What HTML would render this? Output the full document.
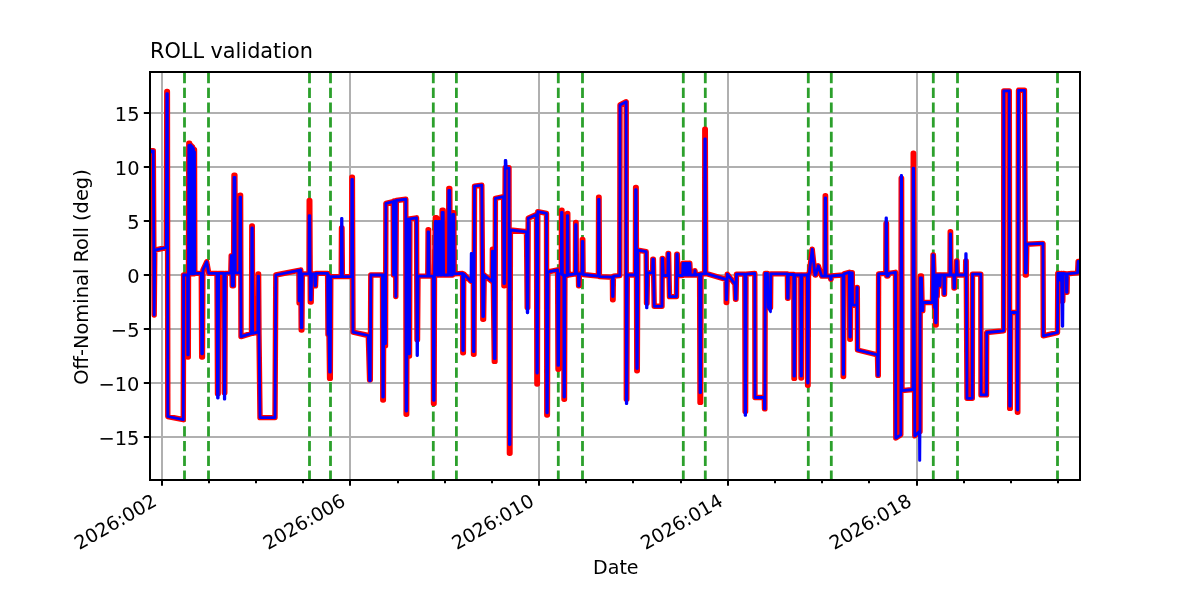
<!DOCTYPE html>
<html><head><meta charset="utf-8"><title>ROLL validation</title>
<style>
html,body{margin:0;padding:0;background:#fff;}
body{width:1200px;height:600px;overflow:hidden;}
svg{display:block;will-change:transform;}
text{font-family:"DejaVu Sans","Liberation Sans",sans-serif;fill:#000;}
</style></head><body>
<svg width="1200" height="600" viewBox="0 0 1200 600">
<rect x="0" y="0" width="1200" height="600" fill="#ffffff"/>
<defs><clipPath id="ax"><rect x="150" y="72" width="930" height="408"/></clipPath></defs>

<g stroke="#b0b0b0" stroke-width="2" fill="none">
<path d="M162.0,480 V72"/>
<path d="M350.0,480 V72"/>
<path d="M539.0,480 V72"/>
<path d="M728.0,480 V72"/>
<path d="M917.0,480 V72"/>
<path d="M150,113 H1080"/>
<path d="M150,167 H1080"/>
<path d="M150,221 H1080"/>
<path d="M150,275 H1080"/>
<path d="M150,329 H1080"/>
<path d="M150,383 H1080"/>
<path d="M150,437 H1080"/>
</g>
<g clip-path="url(#ax)" fill="none" stroke-linejoin="round" stroke-linecap="round">
<g stroke="#2ca02c" stroke-width="2.8" stroke-dasharray="10.28 4.44" stroke-linecap="butt">
<path d="M184.5,480.7 V72"/>
<path d="M208.5,480.7 V72"/>
<path d="M309.5,480.7 V72"/>
<path d="M330.5,480.7 V72"/>
<path d="M433.3,480.7 V72"/>
<path d="M456.4,480.7 V72"/>
<path d="M558.3,480.7 V72"/>
<path d="M582.5,480.7 V72"/>
<path d="M683.3,480.7 V72"/>
<path d="M705.3,480.7 V72"/>
<path d="M808.3,480.7 V72"/>
<path d="M831.3,480.7 V72"/>
<path d="M933.3,480.7 V72"/>
<path d="M957.5,480.7 V72"/>
<path d="M1057.5,480.7 V72"/>
</g>
<path d="M150.0,177.8 L151.3,150.8 L153.3,150.8 L154.2,315.0 L154.8,250.2 L166.3,247.5 L166.8,91.4 L167.4,91.4 L167.8,416.5 L183.3,419.7 L183.6,275.0 L187.6,275.0 L187.8,357.1 L188.3,357.1 L188.8,143.2 L189.6,143.2 L190.0,273.9 L190.5,144.9 L191.0,273.9 L191.5,145.9 L192.0,273.9 L192.5,147.0 L193.0,273.9 L193.5,148.6 L193.8,273.9 L194.1,149.7 L194.5,149.7 L194.8,273.4 L201.3,273.4 L201.7,357.1 L202.5,357.1 L202.9,270.1 L206.7,261.8 L208.8,273.4 L217.0,273.4 L217.5,393.8 L218.2,393.8 L218.6,273.4 L223.8,273.4 L224.3,392.7 L224.8,392.7 L225.3,273.4 L230.8,272.8 L231.2,255.6 L231.8,255.6 L232.2,285.8 L233.5,285.8 L234.0,175.1 L234.9,175.1 L235.3,272.8 L239.7,272.8 L240.0,195.1 L240.6,195.1 L241.0,336.6 L251.5,333.3 L251.8,225.9 L252.3,225.9 L252.7,333.3 L257.8,332.2 L258.1,273.9 L258.6,273.9 L259.0,334.4 L260.0,417.6 L275.0,417.6 L275.8,275.0 L298.9,270.4 L299.1,303.1 L299.6,303.1 L299.9,270.1 L300.8,270.0 L301.2,330.1 L301.9,330.1 L302.3,273.9 L309.0,273.9 L309.2,200.5 L309.8,200.5 L310.3,302.0 L311.2,302.0 L311.6,273.9 L314.5,273.9 L315.0,285.8 L315.5,285.8 L316.0,273.4 L327.6,273.4 L328.0,334.4 L328.5,275.0 L329.0,334.4 L329.6,378.4 L330.3,378.4 L330.8,276.6 L341.2,276.6 L341.5,228.0 L342.0,228.0 L342.4,276.6 L351.6,276.6 L351.8,177.3 L352.4,177.3 L353.0,332.2 L368.3,335.5 L369.6,379.8 L370.3,379.8 L370.8,275.0 L382.5,275.0 L382.8,400.0 L383.4,400.0 L383.8,275.0 L385.0,345.8 L385.5,345.8 L385.9,203.3 L393.2,201.6 L393.5,275.0 L394.0,201.0 L395.5,201.0 L395.8,296.6 L396.3,200.5 L405.8,199.2 L406.1,414.3 L406.7,414.3 L407.2,219.2 L408.6,219.2 L409.0,356.0 L409.5,356.0 L409.9,218.8 L416.5,217.8 L417.0,339.8 L417.5,339.8 L418.0,276.1 L427.8,276.1 L428.1,229.6 L428.6,229.6 L429.0,276.1 L433.2,276.1 L433.5,403.5 L434.1,403.5 L434.5,275.0 L435.3,217.8 L436.6,217.8 L437.0,275.0 L438.6,275.0 L438.9,219.4 L439.8,219.4 L440.2,275.0 L441.8,275.0 L442.1,210.2 L443.2,210.2 L443.6,275.0 L448.5,275.0 L448.8,188.4 L449.8,188.4 L450.2,275.0 L452.5,275.0 L452.8,212.8 L453.8,212.8 L454.2,273.9 L462.6,273.4 L462.8,352.8 L463.4,352.8 L463.7,273.9 L471.0,281.5 L471.2,281.5 L471.8,281.5 L472.0,281.5 L473.3,281.5 L473.5,354.2 L474.0,354.2 L474.5,186.1 L481.8,185.1 L482.8,319.3 L483.6,319.3 L484.2,275.0 L485.0,275.9 L492.2,281.5 L492.4,249.1 L492.9,249.1 L494.3,361.4 L495.0,361.4 L495.4,198.3 L503.6,196.7 L503.9,285.8 L504.5,285.8 L505.2,167.8 L505.9,167.8 L506.3,167.8 L509.0,167.8 L509.4,453.2 L510.0,453.2 L510.4,230.0 L526.5,231.8 L527.2,307.4 L527.8,307.4 L528.2,218.3 L536.5,214.5 L536.9,384.1 L537.4,384.1 L537.8,211.7 L546.5,213.4 L546.8,415.0 L547.4,415.0 L547.9,271.8 L557.6,270.0 L558.0,369.2 L558.6,369.2 L559.0,273.9 L561.3,273.9 L561.5,210.2 L562.0,210.2 L562.4,275.0 L563.8,275.0 L564.0,399.2 L564.5,399.2 L564.9,275.5 L567.1,275.5 L567.3,213.4 L567.8,213.4 L568.1,275.0 L575.4,273.9 L575.6,222.5 L576.1,222.5 L576.4,273.9 L578.4,273.9 L578.6,285.8 L579.1,285.8 L579.4,273.9 L582.1,273.9 L582.3,239.4 L582.8,239.4 L583.1,274.5 L598.4,276.1 L598.6,197.2 L599.1,197.2 L599.4,276.6 L612.4,277.2 L612.6,299.8 L613.1,299.8 L613.4,276.1 L619.8,275.5 L620.0,105.0 L626.2,101.7 L626.3,399.2 L626.8,399.2 L627.3,275.0 L635.4,275.0 L635.6,187.5 L636.2,187.5 L636.8,370.8 L637.3,370.8 L637.8,250.2 L646.2,251.7 L646.5,303.1 L647.0,303.1 L647.5,272.8 L652.6,272.8 L652.8,259.2 L653.4,259.2 L654.2,306.3 L662.0,306.3 L662.2,258.4 L662.6,258.4 L663.3,275.5 L667.8,275.5 L668.1,253.4 L668.6,253.4 L669.5,296.6 L676.5,296.6 L676.8,254.2 L677.3,254.2 L678.0,275.5 L682.5,275.5 L683.0,263.3 L683.6,275.0 L684.2,263.3 L684.8,275.0 L685.4,263.3 L686.0,275.0 L686.6,263.3 L687.2,275.0 L687.8,263.3 L688.4,275.0 L689.0,263.3 L689.8,263.3 L690.4,275.0 L694.5,275.0 L695.0,270.7 L695.5,275.0 L699.6,274.5 L700.0,402.4 L700.6,402.4 L701.0,273.9 L704.6,273.9 L704.8,129.2 L705.3,129.2 L705.7,273.4 L726.0,279.3 L726.2,302.5 L726.7,302.5 L727.3,274.1 L735.0,284.2 L735.5,299.2 L736.0,299.2 L736.5,274.1 L744.8,274.1 L745.1,411.6 L745.6,411.6 L746.0,274.1 L754.8,273.4 L755.0,397.5 L764.3,397.5 L764.5,408.9 L764.9,408.9 L765.2,273.4 L767.5,273.4 L768.2,307.4 L770.5,307.4 L770.8,273.9 L787.4,273.9 L787.6,298.3 L788.1,298.3 L788.4,274.5 L793.8,274.5 L794.0,378.4 L794.5,378.4 L794.8,275.0 L800.8,275.0 L801.0,378.1 L801.5,378.1 L801.8,275.0 L807.4,275.0 L807.6,385.2 L808.1,385.2 L808.5,273.9 L809.2,273.9 L812.2,249.1 L815.0,275.0 L815.8,275.0 L818.3,265.8 L821.7,276.1 L825.0,276.1 L825.2,195.8 L825.6,195.8 L825.9,276.1 L830.4,276.1 L830.7,279.3 L831.1,279.3 L831.4,275.9 L843.0,275.0 L843.2,376.5 L843.6,376.5 L843.9,273.9 L849.3,272.3 L849.8,339.2 L850.4,339.2 L850.8,272.8 L852.3,272.8 L852.5,305.2 L856.8,305.2 L857.0,287.5 L857.3,287.5 L857.5,350.0 L877.5,354.9 L877.9,375.4 L878.3,375.4 L878.6,273.9 L885.8,273.4 L886.0,223.4 L886.5,223.4 L886.8,276.1 L888.0,276.1 L889.0,273.4 L895.5,272.3 L895.8,438.1 L900.8,434.8 L901.2,178.3 L901.6,178.3 L902.0,390.6 L913.0,389.5 L913.2,153.3 L913.6,153.3 L914.8,435.9 L919.4,431.6 L919.6,431.6 L919.8,431.6 L920.0,431.6 L920.2,275.9 L921.5,275.9 L922.2,310.6 L922.8,310.6 L923.0,302.5 L932.5,302.5 L933.0,255.0 L933.4,255.0 L934.0,275.0 L934.5,307.4 L935.0,275.0 L935.6,325.0 L936.2,325.0 L936.6,275.0 L937.2,296.6 L937.8,275.0 L939.6,275.0 L940.0,285.8 L940.5,275.0 L943.8,275.0 L944.0,294.2 L944.5,294.2 L944.8,275.0 L950.0,275.0 L950.2,231.8 L950.6,231.8 L950.9,275.0 L953.8,275.0 L954.0,288.0 L954.5,288.0 L954.8,275.0 L956.4,275.0 L956.6,261.0 L957.0,261.0 L957.3,275.0 L965.5,275.0 L965.7,261.0 L966.2,261.0 L967.0,398.3 L972.3,398.3 L972.5,274.1 L980.8,274.1 L981.0,394.9 L986.5,394.9 L986.7,332.5 L1003.6,330.8 L1003.8,90.9 L1009.3,90.9 L1009.7,408.4 L1010.3,408.4 L1010.8,312.5 L1017.2,312.5 L1017.4,412.2 L1017.8,412.2 L1018.5,90.3 L1024.5,90.3 L1025.3,275.0 L1026.3,275.0 L1026.8,244.2 L1043.0,243.4 L1043.3,335.8 L1057.5,332.5 L1057.8,273.4 L1060.0,273.4 L1060.5,280.4 L1061.5,273.4 L1062.2,300.9 L1062.8,300.9 L1063.2,273.4 L1066.2,273.9 L1066.5,292.3 L1067.0,292.3 L1067.3,273.9 L1077.6,272.8 L1078.1,261.5 L1080.0,261.5" stroke="#ff0000" stroke-width="5.4"/>
<path d="M150.0,153.0 L151.3,150.8 L153.3,150.8 L154.2,315.0 L154.8,250.2 L166.3,247.5 L166.8,93.6 L167.4,93.6 L167.8,416.5 L183.3,419.7 L183.6,275.0 L187.6,275.0 L187.8,354.9 L188.3,354.9 L188.8,145.4 L189.6,145.4 L190.0,273.9 L190.5,144.9 L191.0,273.9 L191.5,145.9 L192.0,273.9 L192.5,147.0 L193.0,273.9 L193.5,148.6 L193.8,273.9 L194.1,151.9 L194.5,151.9 L194.8,273.4 L201.3,273.4 L201.7,353.8 L202.5,353.8 L202.9,270.1 L206.7,261.8 L208.8,273.4 L217.0,273.4 L217.5,398.1 L218.2,398.1 L218.6,273.4 L223.8,273.4 L224.3,399.2 L224.8,399.2 L225.3,273.4 L230.8,272.8 L231.2,255.6 L231.8,255.6 L232.2,285.8 L233.5,285.8 L234.0,177.3 L234.9,177.3 L235.3,272.8 L239.7,272.8 L240.0,197.2 L240.6,197.2 L241.0,336.6 L251.5,333.3 L251.8,228.0 L252.3,228.0 L252.7,333.3 L257.8,332.2 L258.1,276.1 L258.6,276.1 L259.0,334.4 L260.0,417.6 L275.0,417.6 L275.8,275.0 L298.9,270.4 L299.1,300.9 L299.6,300.9 L299.9,270.1 L300.8,270.0 L301.2,327.9 L301.9,327.9 L302.3,273.9 L309.0,273.9 L309.2,215.6 L309.8,215.6 L310.3,299.8 L311.2,299.8 L311.6,273.9 L314.5,273.9 L315.0,285.8 L315.5,285.8 L316.0,273.4 L327.6,273.4 L328.0,334.4 L328.5,275.0 L329.0,334.4 L329.6,372.2 L330.3,372.2 L330.8,276.6 L341.2,276.6 L341.5,218.3 L342.0,218.3 L342.4,276.6 L351.6,276.6 L351.8,179.4 L352.4,179.4 L353.0,332.2 L368.3,335.5 L369.6,380.8 L370.3,380.8 L370.8,275.0 L382.5,275.0 L382.8,397.0 L383.4,397.0 L383.8,275.0 L385.0,343.7 L385.5,343.7 L385.9,203.3 L393.2,201.6 L393.5,275.0 L394.0,201.0 L395.5,201.0 L395.8,296.6 L396.3,200.5 L405.8,199.2 L406.1,411.1 L406.7,411.1 L407.2,219.2 L408.6,219.2 L409.0,353.8 L409.5,353.8 L409.9,218.8 L416.5,217.8 L417.0,355.5 L417.5,355.5 L418.0,276.1 L427.8,276.1 L428.1,231.8 L428.6,231.8 L429.0,276.1 L433.2,276.1 L433.5,400.3 L434.1,400.3 L434.5,275.0 L435.3,221.4 L436.6,221.4 L437.0,275.0 L438.6,275.0 L438.9,221.5 L439.8,221.5 L440.2,275.0 L441.8,275.0 L442.1,212.4 L443.2,212.4 L443.6,275.0 L448.5,275.0 L448.8,190.5 L449.8,190.5 L450.2,275.0 L452.5,275.0 L452.8,214.5 L453.8,214.5 L454.2,273.9 L462.6,273.4 L462.8,350.6 L463.4,350.6 L463.7,273.9 L471.0,281.5 L471.2,253.4 L471.8,253.4 L472.0,281.5 L473.3,281.5 L473.5,351.7 L474.0,351.7 L474.5,186.1 L481.8,185.1 L482.8,316.6 L483.6,316.6 L484.2,275.0 L485.0,275.9 L492.2,281.5 L492.4,251.2 L492.9,251.2 L494.3,358.7 L495.0,358.7 L495.4,198.3 L503.6,196.7 L503.9,283.6 L504.5,283.6 L505.2,160.5 L505.9,160.5 L506.3,168.1 L509.0,168.1 L509.4,444.6 L510.0,444.6 L510.4,230.0 L526.5,231.8 L527.2,312.8 L527.8,312.8 L528.2,218.3 L536.5,214.5 L536.9,373.0 L537.4,373.0 L537.8,211.7 L546.5,213.4 L546.8,412.8 L547.4,412.8 L547.9,271.8 L557.6,270.0 L558.0,365.4 L558.6,365.4 L559.0,273.9 L561.3,273.9 L561.5,212.4 L562.0,212.4 L562.4,275.0 L563.8,275.0 L564.0,397.0 L564.5,397.0 L564.9,275.5 L567.1,275.5 L567.3,215.6 L567.8,215.6 L568.1,275.0 L575.4,273.9 L575.6,224.7 L576.1,224.7 L576.4,273.9 L578.4,273.9 L578.6,285.8 L579.1,285.8 L579.4,273.9 L582.1,273.9 L582.3,241.5 L582.8,241.5 L583.1,274.5 L598.4,276.1 L598.6,199.4 L599.1,199.4 L599.4,276.6 L612.4,277.2 L612.6,296.6 L613.1,296.6 L613.4,276.1 L619.8,275.5 L620.0,105.0 L626.2,101.7 L626.3,403.7 L626.8,403.7 L627.3,275.0 L635.4,275.0 L635.6,189.7 L636.2,189.7 L636.8,368.6 L637.3,368.6 L637.8,250.2 L646.2,251.7 L646.5,307.9 L647.0,307.9 L647.5,272.8 L652.6,272.8 L652.8,259.2 L653.4,259.2 L654.2,306.3 L662.0,306.3 L662.2,258.4 L662.6,258.4 L663.3,275.5 L667.8,275.5 L668.1,253.4 L668.6,253.4 L669.5,296.6 L676.5,296.6 L676.8,254.2 L677.3,254.2 L678.0,275.5 L682.5,275.5 L683.0,263.3 L683.6,275.0 L684.2,263.3 L684.8,275.0 L685.4,263.3 L686.0,275.0 L686.6,263.3 L687.2,275.0 L687.8,263.3 L688.4,275.0 L689.0,263.3 L689.8,263.3 L690.4,275.0 L694.5,275.0 L695.0,270.7 L695.5,275.0 L699.6,274.5 L700.0,392.7 L700.6,392.7 L701.0,273.9 L704.6,273.9 L704.8,138.9 L705.3,138.9 L705.7,273.4 L726.0,279.3 L726.2,299.8 L726.7,299.8 L727.3,274.1 L735.0,284.2 L735.5,299.2 L736.0,299.2 L736.5,274.1 L744.8,274.1 L745.1,415.4 L745.6,415.4 L746.0,274.1 L754.8,273.4 L755.0,397.5 L764.3,397.5 L764.5,408.9 L764.9,408.9 L765.2,273.4 L767.5,273.4 L768.2,307.4 L770.5,311.7 L770.8,273.9 L787.4,273.9 L787.6,298.3 L788.1,298.3 L788.4,274.5 L793.8,274.5 L794.0,376.2 L794.5,376.2 L794.8,275.0 L800.8,275.0 L801.0,376.0 L801.5,376.0 L801.8,275.0 L807.4,275.0 L807.6,383.0 L808.1,383.0 L808.5,273.9 L809.2,273.9 L812.2,249.1 L815.0,275.0 L815.8,275.0 L818.3,265.8 L821.7,276.1 L825.0,276.1 L825.2,198.0 L825.6,198.0 L825.9,276.1 L830.4,276.1 L830.7,279.3 L831.1,279.3 L831.4,275.9 L843.0,275.0 L843.2,374.4 L843.6,374.4 L843.9,273.9 L849.3,272.3 L849.8,337.0 L850.4,337.0 L850.8,272.8 L852.3,272.8 L852.5,305.2 L856.8,305.2 L857.0,287.5 L857.3,287.5 L857.5,350.0 L877.5,354.9 L877.9,375.4 L878.3,375.4 L878.6,273.9 L885.8,273.4 L886.0,217.9 L886.5,217.9 L886.8,276.1 L888.0,276.1 L889.0,273.4 L895.5,272.3 L895.8,438.1 L900.8,434.8 L901.2,175.4 L901.6,175.4 L902.0,390.6 L913.0,389.5 L913.2,168.1 L913.6,168.1 L914.8,435.9 L919.4,431.6 L919.6,460.4 L919.8,460.4 L920.0,431.6 L920.2,278.0 L921.5,278.0 L922.2,310.6 L922.8,310.6 L923.0,302.5 L932.5,302.5 L933.0,255.0 L933.4,255.0 L934.0,275.0 L934.5,307.4 L935.0,275.0 L935.6,322.8 L936.2,322.8 L936.6,275.0 L937.2,296.6 L937.8,275.0 L939.6,275.0 L940.0,285.8 L940.5,275.0 L943.8,275.0 L944.0,294.2 L944.5,294.2 L944.8,275.0 L950.0,275.0 L950.2,234.0 L950.6,234.0 L950.9,275.0 L953.8,275.0 L954.0,288.0 L954.5,288.0 L954.8,275.0 L956.4,275.0 L956.6,261.0 L957.0,261.0 L957.3,275.0 L965.5,275.0 L965.7,253.7 L966.2,253.7 L967.0,398.3 L972.3,398.3 L972.5,274.1 L980.8,274.1 L981.0,394.9 L986.5,394.9 L986.7,332.5 L1003.6,330.8 L1003.8,90.9 L1009.3,90.9 L1009.7,406.2 L1010.3,406.2 L1010.8,312.5 L1017.2,312.5 L1017.4,410.0 L1017.8,410.0 L1018.5,90.3 L1024.5,90.3 L1025.3,272.8 L1026.3,272.8 L1026.8,244.2 L1043.0,243.4 L1043.3,335.8 L1057.5,332.5 L1057.8,273.4 L1060.0,273.4 L1060.5,280.4 L1061.5,273.4 L1062.2,326.3 L1062.8,326.3 L1063.2,273.4 L1066.2,273.9 L1066.5,292.3 L1067.0,292.3 L1067.3,273.9 L1077.6,272.8 L1078.1,261.5 L1080.0,261.5" stroke="#0000ff" stroke-width="2.8"/>
</g>
<rect x="150" y="72" width="930" height="408" fill="none" stroke="#000" stroke-width="2"/>
<g stroke="#000" stroke-width="2" fill="none">
<path d="M162.0,480 v5.8"/>
<path d="M350.0,480 v5.8"/>
<path d="M539.0,480 v5.8"/>
<path d="M728.0,480 v5.8"/>
<path d="M917.0,480 v5.8"/>
<path d="M209.0,480 v3.2"/>
<path d="M256.0,480 v3.2"/>
<path d="M303.0,480 v3.2"/>
<path d="M398.0,480 v3.2"/>
<path d="M445.0,480 v3.2"/>
<path d="M492.0,480 v3.2"/>
<path d="M586.0,480 v3.2"/>
<path d="M633.0,480 v3.2"/>
<path d="M681.0,480 v3.2"/>
<path d="M775.0,480 v3.2"/>
<path d="M822.0,480 v3.2"/>
<path d="M869.0,480 v3.2"/>
<path d="M964.0,480 v3.2"/>
<path d="M1011.0,480 v3.2"/>
<path d="M1058.0,480 v3.2"/>
<path d="M150,113 h-6.2"/>
<path d="M150,167 h-6.2"/>
<path d="M150,221 h-6.2"/>
<path d="M150,275 h-6.2"/>
<path d="M150,329 h-6.2"/>
<path d="M150,383 h-6.2"/>
<path d="M150,437 h-6.2"/>
</g>
<text x="139.5" y="121.0" font-size="19.44" text-anchor="end">15</text>
<text x="139.5" y="175.0" font-size="19.44" text-anchor="end">10</text>
<text x="139.5" y="229.0" font-size="19.44" text-anchor="end">5</text>
<text x="139.5" y="283.0" font-size="19.44" text-anchor="end">0</text>
<text x="139.5" y="337.0" font-size="19.44" text-anchor="end">−5</text>
<text x="139.5" y="391.0" font-size="19.44" text-anchor="end">−10</text>
<text x="139.5" y="445.0" font-size="19.44" text-anchor="end">−15</text>
<text transform="translate(158.1,504.8) rotate(-30)" font-size="19" text-anchor="end">2026:002</text>
<text transform="translate(346.8,504.8) rotate(-30)" font-size="19" text-anchor="end">2026:006</text>
<text transform="translate(535.5,504.8) rotate(-30)" font-size="19" text-anchor="end">2026:010</text>
<text transform="translate(724.3,504.8) rotate(-30)" font-size="19" text-anchor="end">2026:014</text>
<text transform="translate(913.0,504.8) rotate(-30)" font-size="19" text-anchor="end">2026:018</text>
<text x="615.8" y="574.3" font-size="19.44" text-anchor="middle" textLength="45.6" lengthAdjust="spacingAndGlyphs">Date</text>
<text transform="translate(88.0,277.0) rotate(-90)" font-size="19.44" text-anchor="middle">Off-Nominal Roll (deg)</text>
<text x="150" y="58" font-size="20.83" text-anchor="start" textLength="162.9" lengthAdjust="spacing">ROLL validation</text>
</svg></body></html>
